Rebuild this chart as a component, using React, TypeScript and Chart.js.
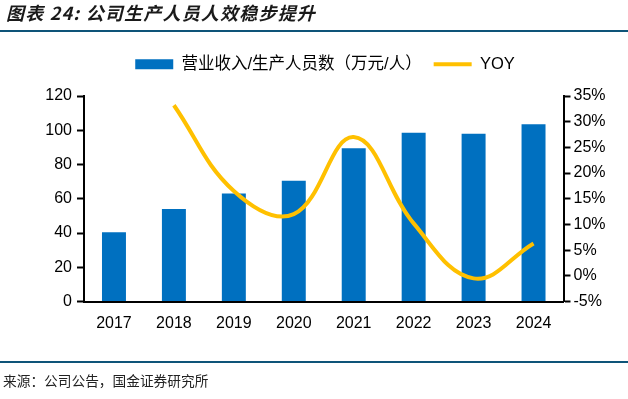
import React, { useEffect, useRef } from "react";
import { Chart, registerables } from "chart.js";

Chart.register(...registerables);

const years = ["2017", "2018", "2019", "2020", "2021", "2022", "2023", "2024"];
const revenuePerWorker = [40.5, 54, 63, 70.5, 89.5, 98.5, 98, 103.5];
const yoyPct = [null, 33.2, 16.5, 12.0, 27.0, 10.2, -0.5, 6.3];
const leftAxisRange = [0, 120, 20];
const rightAxisRange = [-5, 35, 5];
const barLabel = "营业收入/生产人员数（万元/人）";
const lineLabel = "YOY";
const titleText = "图表 24: 公司生产人员人效稳步提升";
const sourceText = "来源：公司公告，国金证券研究所";

const FONT = "'Liberation Sans', Arial, 'Noto Sans CJK SC', sans-serif";
const BLUE = "#0070C0";
const GOLD = "#FFC000";

const legendHeightFix = {
  id: "legendHeightFix",
  beforeLayout(chart: any) {
    const lg = chart.legend;
    if (lg && !lg.__patched) {
      const orig = lg.fit.bind(lg);
      lg.fit = function () {
        orig();
        this.height = 52;
      };
      lg.__patched = true;
    }
  },
};

export default function App() {
  const ref = useRef<HTMLCanvasElement | null>(null);

  useEffect(() => {
    if (!ref.current) return;
    const chart = new Chart(ref.current, {
      type: "bar",
      data: {
        labels: years,
        datasets: [
          {
            type: "bar",
            label: barLabel,
            data: revenuePerWorker,
            backgroundColor: BLUE,
            borderWidth: 0,
            barPercentage: 0.4,
            categoryPercentage: 1,
            yAxisID: "y",
            order: 1,
          },
          {
            type: "line",
            label: lineLabel,
            data: yoyPct as any,
            borderColor: GOLD,
            backgroundColor: GOLD,
            borderWidth: 4,
            pointRadius: 0,
            tension: 0.4,
            yAxisID: "y1",
            order: 0,
          },
        ],
      },
      plugins: [legendHeightFix],
      options: {
        responsive: false,
        animation: false,
        layout: { padding: { top: 44, left: 22, right: 0, bottom: 0 } },
        plugins: {
          tooltip: { enabled: false },
          legend: {
            display: true,
            position: "top",
            labels: {
              usePointStyle: true,
              pointStyleWidth: 38,
              boxHeight: 10,
              padding: 12,
              color: "#000",
              font: { family: FONT, size: 16.5 },
              sort: (a: any, b: any) => a.datasetIndex - b.datasetIndex,
              generateLabels: (c: any) => {
                return c.data.datasets.map((ds: any, i: number) => ({
                  text: ds.label,
                  datasetIndex: i,
                  fillStyle: i === 0 ? BLUE : GOLD,
                  strokeStyle: i === 0 ? BLUE : GOLD,
                  lineWidth: i === 0 ? 0 : 4,
                  pointStyle: i === 0 ? "rect" : "line",
                  hidden: false,
                  fontColor: "#000",
                }));
              },
            },
          },
        },
        scales: {
          x: {
            type: "category",
            offset: true,
            grid: { display: false },
            border: { display: true, color: "#000", width: 2 },
            ticks: { color: "#000", font: { family: FONT, size: 16 }, padding: 4 },
            afterFit: (s: any) => {
              s.height = 97.5;
            },
          },
          y: {
            position: "left",
            min: leftAxisRange[0],
            max: leftAxisRange[1],
            ticks: { stepSize: leftAxisRange[2], color: "#000", font: { family: FONT, size: 16 }, padding: 5 },
            grid: { display: true, drawOnChartArea: false, drawTicks: true, tickLength: 7, tickWidth: 2, tickColor: "#000" },
            border: { display: true, color: "#000", width: 2 },
            afterFit: (s: any) => {
              s.width = 62;
            },
          },
          y1: {
            position: "right",
            min: rightAxisRange[0],
            max: rightAxisRange[1],
            ticks: {
              stepSize: rightAxisRange[2],
              color: "#000",
              font: { family: FONT, size: 16 },
              padding: 3,
              callback: (v: any) => `${v}%`,
            },
            grid: { display: true, drawOnChartArea: false, drawTicks: true, tickLength: 7, tickWidth: 2, tickColor: "#000" },
            border: { display: true, color: "#000", width: 2 },
            afterFit: (s: any) => {
              s.width = 64.5;
            },
          },
        },
      },
    });
    return () => chart.destroy();
  }, []);

  return (
    <div style={{ position: "fixed", left: 0, top: 0, width: 628, height: 399, background: "#fff", overflow: "hidden" }}>
      <canvas ref={ref} width={628} height={399} style={{ position: "absolute", left: 0, top: 0, width: 628, height: 399 }} />
      <div
        style={{
          position: "absolute",
          left: 6,
          top: 0,
          fontFamily: "'Noto Sans CJK SC', sans-serif",
          fontWeight: 700,
          fontStyle: "italic",
          fontSize: 18,
          letterSpacing: 1.2,
          lineHeight: "24px",
          color: "#1a1a1a",
          whiteSpace: "nowrap",
        }}
      >
        {titleText}
      </div>
      <div style={{ position: "absolute", left: 0, top: 30, width: 628, height: 2, background: "#0E5478" }} />
      <div style={{ position: "absolute", left: 0, top: 361, width: 628, height: 2, background: "#0E5478" }} />
      <div
        style={{
          position: "absolute",
          left: 3,
          top: 370,
          fontFamily: "'Noto Sans CJK SC', serif",
          fontSize: 13.7,
          lineHeight: "20px",
          color: "#222",
          whiteSpace: "nowrap",
        }}
      >
        {sourceText}
      </div>
    </div>
  );
}
